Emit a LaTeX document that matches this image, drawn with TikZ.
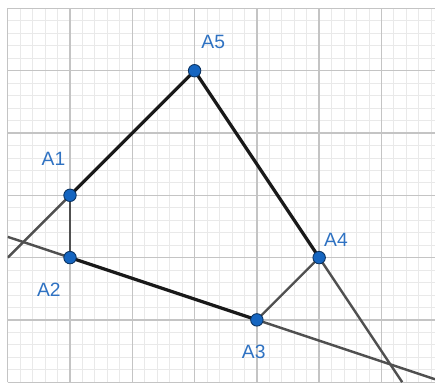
\documentclass[tikz,border=0pt]{standalone}
\usepackage{xcolor}
\usepackage{fontspec}
\setsansfont{Liberation Sans}
\usepackage{tikz}
\usetikzlibrary{positioning}
\definecolor{ptblue}{HTML}{1565C0}
\definecolor{lblblue}{HTML}{2F72C2}
\definecolor{gridmajor}{HTML}{C4C4C4}
\definecolor{gridminor}{HTML}{E9E9E9}
\definecolor{lineray}{HTML}{505050}

\begin{document}
\begin{tikzpicture}[
    minorgrid/.style={gridminor, line width=0.4pt},
    majorgrid/.style={gridmajor, line width=0.6pt},
    seg/.style={line width=1.5pt, black!90},
    ray/.style={line width=1.1pt, lineray},
    pt/.style={circle, fill=ptblue, draw=ptblue!50!black, line width=0.4pt, minimum size=0.2cm, inner sep=0pt},
    lbl/.style={text=lblblue, font=\sffamily\fontsize{8.8}{10}\selectfont, inner sep=0pt}
  ]

    \useasboundingbox (-0.124,-0.03) rectangle (6.86,6.136);

    \draw[minorgrid] (0,0) grid[step=0.2] (6.86,6);
    \draw[majorgrid] (0,0) grid[step=1] (6.86,6);

    \coordinate (a1) at (1,3);
    \coordinate (a2) at (1,2);
    \coordinate (a3) at (4,1);
    \coordinate (a4) at (5,2);
    \coordinate (a5) at (3,5);

    \coordinate (e1) at (0,2);
    \coordinate (e2) at (0,2.3333);
    \coordinate (e3) at (6.86,0.0467);
    \coordinate (e4) at (6.3333,0);

    \begin{scope}
      \clip (0,0) rectangle (6.86,6);
      \draw[ray] (a1) -- (e1);
      \draw[ray] (e2) -- (a2);
      \draw[ray] (a3) -- (e3);
      \draw[ray] (a4) -- (e4);
      \draw[ray] (a1) -- (a2);
      \draw[ray] (a3) -- (a4);
      \draw[seg] (a1) -- (a5);
      \draw[seg] (a5) -- (a4);
      \draw[seg] (a2) -- (a3);
    \end{scope}

    \node[pt] (p1) at (a1) {};
    \node[pt] (p2) at (a2) {};
    \node[pt] (p3) at (a3) {};
    \node[pt] (p4) at (a4) {};
    \node[pt] (p5) at (a5) {};

    \node[lbl] (l1) at (0.735,3.58) {A1};
    \node[lbl] (l2) at (0.66,1.48) {A2};
    \node[lbl] (l3) at (3.95,0.48) {A3};
    \node[lbl] (l4) at (5.27,2.28) {A4};
    \node[lbl] (l5) at (3.30,5.46) {A5};

  \end{tikzpicture}
\end{document}
